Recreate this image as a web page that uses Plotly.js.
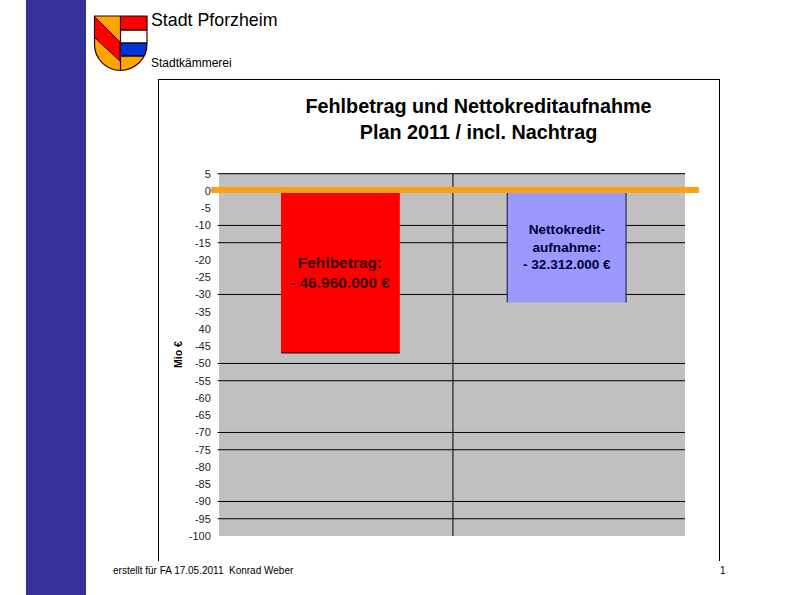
<!DOCTYPE html>
<html>
<head>
<meta charset="utf-8">
<script src="https://cdn.plot.ly/plotly-3.0.1.min.js"></script>
<style>
  html, body { margin: 0; padding: 0; background: #fff; }
  body { width: 785px; height: 595px; overflow: hidden; position: relative; font-family: "Liberation Sans", Arial, sans-serif; color: #000; }
  .abs { position: absolute; white-space: nowrap; }
  #sidebar { left: 26px; top: 0; width: 60px; height: 595px; background: #333399; }
  #frame { left: 158px; top: 79px; width: 560px; height: 481px; border: 1px solid #000; border-bottom: none; }
  #graph { left: 0; top: 0; width: 785px; height: 595px; }
</style>
</head>
<body>
<div id="sidebar" class="abs"></div>
<svg class="abs" style="left:0;top:0" width="785" height="80">
  <defs>
    <clipPath id="shield"><path d="M94.5 16 H147 V44 C147 60 134 70 120.5 70.5 C107 70 94.5 60 94.5 44 Z"/></clipPath>
  </defs>
  <g clip-path="url(#shield)">
    <rect x="94" y="15" width="27" height="57" fill="#FFA500"/>
    <path d="M94 16 L120 42 V61 L94 37 Z" fill="#FF0000" stroke="#300" stroke-width="1"/>
    <rect x="121" y="15" width="27" height="15" fill="#FF0000"/>
    <rect x="121" y="30" width="27" height="13" fill="#FFFFFF"/>
    <rect x="121" y="43" width="27" height="13" fill="#0033DD"/>
    <rect x="121" y="56" width="27" height="16" fill="#FFA500"/>
    <path d="M121 30 H147 M121 43 H147 M121 56 H147" stroke="#200" stroke-width="1.4"/>
  </g>
  <path d="M94.5 16 H147 V44 C147 60 134 70 120.5 70.5 C107 70 94.5 60 94.5 44 Z M120.5 16 V70" fill="none" stroke="#300" stroke-width="1.2"/>
</svg>
<div class="abs" style="left:151px;top:10px;font-size:17.8px">Stadt Pforzheim</div>
<div class="abs" style="left:151px;top:56px;font-size:12px">Stadtkämmerei</div>
<div id="frame" class="abs"></div>
<div id="graph" class="abs"></div>
<div class="abs" style="left:113px;top:565px;font-size:10px">erstellt für FA 17.05.2011&nbsp; Konrad Weber</div>
<div class="abs" style="left:720px;top:565px;font-size:10px">1</div>
<script>
// values (Mio EUR)
var barPositions = [0.521, 1.492];
var barValues = [-46.96, -32.312];
var barColors = ["#FF0000", "#9999FF"];
var tickValues = [5, 0, -5, -10, -15, -20, -25, -30, -35, -40, -45, -50, -55, -60, -65, -70, -75, -80, -85, -90, -95, -100];
var tickLabels = ["5", "0", "-5", "-10", "-15", "-20", "-25", "-30", "-35", "40", "-45", "-50", "-55", "-60", "-65", "-70", "-75", "-80", "-85", "-90", "-95", "-100"];
var gridValues = [5, -10, -15, -30, -50, -55, -70, -75, -90, -95];

function drawGraph() {
    var bars = {
        x: barPositions,
        y: barValues,
        type: "bar",
        width: 0.51,
        marker: { color: barColors },
        hoverinfo: "skip"
    };

    // the gridlines in the original are irregular, so they are drawn one by one
    var shapes = gridValues.map(function (v) {
        return {
            type: "line", layer: "below", xref: "paper", yref: "y",
            x0: -0.003, x1: 1, y0: v, y1: v,
            line: { color: "#000", width: 1 }
        };
    });
    // divider between the two categories
    shapes.push({
        type: "line", layer: "below", xref: "x", yref: "y",
        x0: 1.004, x1: 1.004, y0: 5, y1: -100,
        line: { color: "#000", width: 1 }
    });
    // bottom edge of the red bar, side edges of the blue one
    shapes.push({
        type: "line", xref: "x", yref: "y",
        x0: barPositions[0] - 0.255, x1: barPositions[0] + 0.255, y0: barValues[0], y1: barValues[0],
        line: { color: "#200", width: 1 }
    });
    [-0.255, 0.255].forEach(function (d) {
        shapes.push({
            type: "line", xref: "x", yref: "y",
            x0: barPositions[1] + d, x1: barPositions[1] + d, y0: 0, y1: barValues[1],
            line: { color: "#113", width: 1 }
        });
    });
    // orange line at zero, runs past both sides of the plot area
    shapes.push({
        type: "line", xref: "paper", yref: "y",
        x0: -0.017, x1: 1.03, y0: 0.3, y1: 0.3,
        line: { color: "#FFA014", width: 6 }
    });

    var layout = {
        width: 785,
        height: 595,
        margin: { l: 219, r: 100, t: 173, b: 59 },
        paper_bgcolor: "rgba(0,0,0,0)",
        plot_bgcolor: "#C0C0C0",
        showlegend: false,
        font: { family: "Liberation Sans, Arial, sans-serif", color: "#000" },
        title: {
            text: "<b>Fehlbetrag und Nettokreditaufnahme<br>Plan 2011 / incl. Nachtrag</b>",
            font: { size: 19.8, color: "#000" },
            xref: "container", yref: "container",
            x: 478.5 / 785, xanchor: "center",
            y: 1 - 113 / 595, yanchor: "middle"
        },
        xaxis: { range: [0, 2], showticklabels: false, showgrid: false, zeroline: false, ticks: "", fixedrange: true },
        yaxis: {
            range: [-100, 5.2],
            tickmode: "array",
            tickvals: tickValues,
            ticktext: tickLabels,
            tickfont: { size: 11, color: "#222" },
            ticks: "outside", ticklen: 5, tickcolor: "rgba(0,0,0,0)",
            showgrid: false, zeroline: false,
            title: { text: "<b>Mio €</b>", font: { size: 10.5 }, standoff: 4 },
            fixedrange: true
        },
        shapes: shapes,
        annotations: [
            {
                x: barPositions[0], y: -23.5, xref: "x", yref: "y", showarrow: false,
                text: "<b>Fehlbetrag:<br>- 46.960.000 €</b>",
                font: { size: 15.5, color: "#3A0000" }, align: "center"
            },
            {
                x: barPositions[1], y: -16.3, xref: "x", yref: "y", showarrow: false,
                text: "<b>Nettokredit-<br>aufnahme:<br>- 32.312.000 €</b>",
                font: { size: 13.6, color: "#000033" }, align: "center"
            }
        ]
    };

    Plotly.newPlot("graph", [bars], layout, { displayModeBar: false, staticPlot: true });
}

drawGraph();
</script>
</body>
</html>
